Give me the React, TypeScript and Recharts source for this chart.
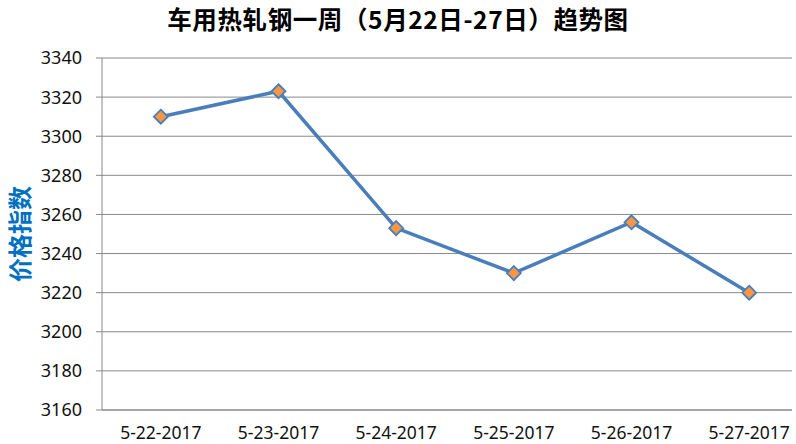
import React from 'react';
import { LineChart, Line, XAxis, YAxis, CartesianGrid } from 'recharts';

const dates = ['5-22-2017', '5-23-2017', '5-24-2017', '5-25-2017', '5-26-2017', '5-27-2017'];
const values = [3310, 3323, 3253, 3230, 3256, 3220];
const yTicks = [3160, 3180, 3200, 3220, 3240, 3260, 3280, 3300, 3320, 3340];
const boundaryTicks = [0, 1, 2, 3, 4, 5, 6];
const centerTicks = [0.5, 1.5, 2.5, 3.5, 4.5, 5.5];

const data = dates.map((d, i) => ({ pos: i + 0.5, date: d, value: values[i] }));

const GRID = '#888888';
const LINE = '#4A7EBB';
const MARK = '#F79646';
const FONT = '"Noto Sans", "DejaVu Sans", sans-serif';

const Diamond = (props: any) => {
  const { cx, cy, index } = props;
  if (cx == null || cy == null) return null;
  const r = 7;
  return (
    <path
      key={`d-${index}`}
      d={`M${cx},${cy - r} L${cx + r},${cy} L${cx},${cy + r} L${cx - r},${cy} Z`}
      fill={MARK}
      stroke={LINE}
      strokeWidth={1.8}
    />
  );
};

export default function App() {
  return (
    <div style={{ position: 'absolute', left: 0, top: 0, width: 792, height: 444, overflow: 'hidden', background: '#fff' }}>
      <div
        style={{
          position: 'absolute',
          left: 398,
          top: 18,
          transform: 'translate(-50%, -50%)',
          whiteSpace: 'nowrap',
          fontFamily: '"Noto Sans CJK SC", sans-serif',
          fontWeight: 'bold',
          fontSize: 24.5,
          letterSpacing: 0.6,
          color: '#000',
        }}
      >
        车用热轧钢一周（5月22日-27日）趋势图
      </div>
      <div
        style={{
          position: 'absolute',
          left: 18,
          top: 234,
          transform: 'translate(-50%, -50%) rotate(-90deg)',
          whiteSpace: 'nowrap',
          fontFamily: '"Noto Sans CJK SC", sans-serif',
          fontWeight: 'bold',
          fontSize: 24,
          color: '#0070C0',
        }}
      >
        价格指数
      </div>
      <LineChart width={810} height={444} data={data} margin={{ top: 58, right: 2, bottom: 0, left: 0 }}>
        <CartesianGrid xAxisId="grid" vertical={false} stroke={GRID} strokeWidth={1} />
        <XAxis
          xAxisId="grid"
          dataKey="pos"
          type="number"
          domain={[0, 6]}
          ticks={boundaryTicks}
          tick={false}
          tickSize={7}
          height={8}
          stroke={GRID}
          axisLine={{ stroke: GRID }}
          tickLine={{ stroke: GRID }}
          interval={0}
        />
        <XAxis
          xAxisId="labels"
          dataKey="pos"
          type="number"
          domain={[0, 6]}
          ticks={centerTicks}
          tickFormatter={(v: number) => dates[Math.floor(v)]}
          axisLine={false}
          tickLine={false}
          tickSize={0}
          tickMargin={9}
          height={26}
          interval={0}
          tick={{ fill: '#111', fontSize: 17.5, fontFamily: FONT }}
        />
        <YAxis
          domain={[3160, 3340]}
          ticks={yTicks}
          interval={0}
          width={102}
          tickSize={6}
          tickMargin={14}
          axisLine={{ stroke: GRID }}
          tickLine={{ stroke: GRID }}
          tick={{ fill: '#111', fontSize: 18, fontFamily: FONT }}
        />
        <Line
          xAxisId="labels"
          dataKey="value"
          stroke={LINE}
          strokeWidth={3.5}
          dot={Diamond}
          activeDot={false}
          isAnimationActive={false}
        />
      </LineChart>
    </div>
  );
}
